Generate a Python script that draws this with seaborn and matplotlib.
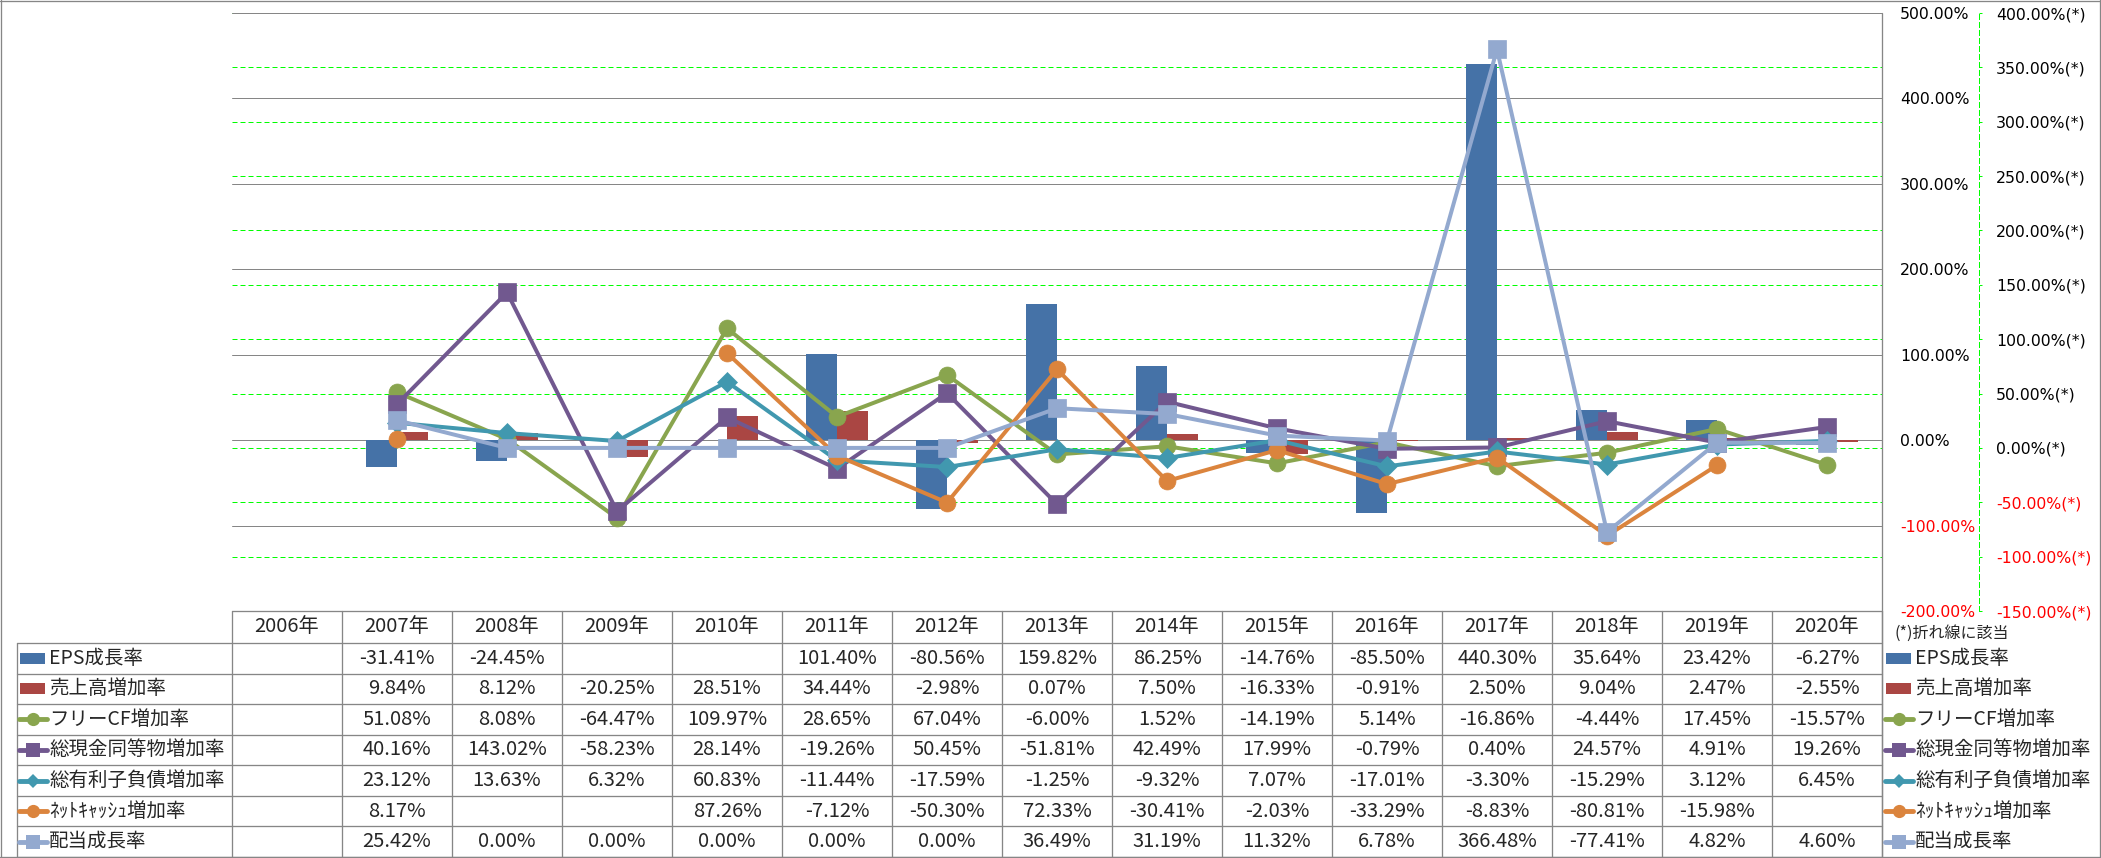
import numpy as np
import pandas as pd
import matplotlib
matplotlib.use("Agg")
import matplotlib.pyplot as plt
import seaborn as sns
from matplotlib.lines import Line2D
from matplotlib.patches import Rectangle

# データ (表の値そのまま, 空欄は NaN)
nan = np.nan
years = ["2006年", "2007年", "2008年", "2009年", "2010年", "2011年", "2012年", "2013年",
         "2014年", "2015年", "2016年", "2017年", "2018年", "2019年", "2020年"]

eps_growth = [nan, -31.41, -24.45, nan, nan, 101.40, -80.56, 159.82, 86.25, -14.76, -85.50, 440.30, 35.64, 23.42, -6.27]
sales_growth = [nan, 9.84, 8.12, -20.25, 28.51, 34.44, -2.98, 0.07, 7.50, -16.33, -0.91, 2.50, 9.04, 2.47, -2.55]
fcf_growth = [nan, 51.08, 8.08, -64.47, 109.97, 28.65, 67.04, -6.00, 1.52, -14.19, 5.14, -16.86, -4.44, 17.45, -15.57]
cash_growth = [nan, 40.16, 143.02, -58.23, 28.14, -19.26, 50.45, -51.81, 42.49, 17.99, -0.79, 0.40, 24.57, 4.91, 19.26]
debt_growth = [nan, 23.12, 13.63, 6.32, 60.83, -11.44, -17.59, -1.25, -9.32, 7.07, -17.01, -3.30, -15.29, 3.12, 6.45]
netcash_growth = [nan, 8.17, nan, nan, 87.26, -7.12, -50.30, 72.33, -30.41, -2.03, -33.29, -8.83, -80.81, -15.98, nan]
dividend_growth = [nan, 25.42, 0.00, 0.00, 0.00, 0.00, 0.00, 36.49, 31.19, 11.32, 6.78, 366.48, -77.41, 4.82, 4.60]

bar_names = ["EPS成長率", "売上高増加率"]
bar_values = [eps_growth, sales_growth]
bar_colors = ["#4572A7", "#AA4643"]

line_names = ["フリーCF増加率", "総現金同等物増加率", "総有利子負債増加率", "ﾈｯﾄｷｬｯｼｭ増加率", "配当成長率"]
line_values = [fcf_growth, cash_growth, debt_growth, netcash_growth, dividend_growth]
line_colors = ["#89A54E", "#71588F", "#4198AF", "#DB843D", "#93A9CF"]
line_markers = ["o", "s", "D", "o", "s"]
marker_sizes = [12.2, 13, 10.2, 12.2, 13]

# レイアウト (ピクセル)
W, H = 2101, 858
PL, PR, PT, PB = 232, 1882, 13, 611
ROW_TOP, ROW_H = 643, 30.57
GREY = "#868686"
GREEN = "#00FF00"
px = 72 / 100

sns.set_style("white")
plt.rcParams["font.family"] = ["DejaVu Sans", "Noto Sans CJK JP"]
TFONT = ["Liberation Sans Narrow", "Noto Sans CJK JP"]

fig = plt.figure(figsize=(W / 100, H / 100), dpi=100)
rect = [PL / W, 1 - PB / H, (PR - PL) / W, (PB - PT) / H]


def right_labels(ax, ticks, fmt):
    ax.yaxis.tick_right()
    ax.set_yticks(ticks)
    ax.set_yticklabels([fmt.format(v) for v in ticks], fontsize=11.3)
    for t, v in zip(ax.yaxis.get_major_ticks(), ticks):
        t.label2.set_color("red" if v < 0 else "black")


# 第2軸 (折れ線用) の背景と緑の破線グリッド
ax_g = fig.add_axes(rect, zorder=0)
for s in ["left", "top", "bottom"]:
    ax_g.spines[s].set_visible(False)
ax_g.spines["right"].set_position(("outward", (1979 - PR) * px))
ax_g.spines["right"].set_color(GREEN)
ax_g.spines["right"].set_linestyle((0, (5, 3)))
ax_g.spines["right"].set_linewidth(px)
ax_g.set_xlim(-0.5, len(years) - 0.5)
ax_g.set_ylim(-150, 400)
ax_g.set_xticks([])
ax_g.tick_params(axis="y", direction="out", length=3 * px, color=GREEN, width=px, pad=10)
ax_g.grid(axis="y", color=GREEN, linewidth=px, linestyle=(0, (5, 3)))
right_labels(ax_g, np.arange(-150, 401, 50), "{:.2f}%(*)")

# 第1軸 (棒グラフ)
ax_b = fig.add_axes(rect, zorder=1)
ax_b.patch.set_visible(False)
bar_df = pd.DataFrame({
    "年": years * len(bar_names),
    "系列": [n for n in bar_names for _ in years],
    "値": [v for vals in bar_values for v in vals],
})
sns.barplot(data=bar_df, x="年", y="値", hue="系列", order=years, hue_order=bar_names,
            palette=bar_colors, saturation=1, width=0.565, errorbar=None,
            linewidth=0, legend=False, ax=ax_b)
for s in ax_b.spines.values():
    s.set_visible(False)
ax_b.set_xlim(-0.5, len(years) - 0.5)
ax_b.set_ylim(-200, 500)
ax_b.set_xticks([])
ax_b.set_xlabel("")
ax_b.set_ylabel("")
ax_b.set_axisbelow(True)
ax_b.grid(axis="y", color=GREY, linewidth=px)
ax_b.tick_params(axis="y", length=0, pad=(1900 - PR) * px)
right_labels(ax_b, np.arange(-200, 501, 100), "{:.2f}%")

# 折れ線 (第2軸)
ax_l = fig.add_axes(rect, zorder=2)
ax_l.patch.set_visible(False)
for name, vals, c, m, ms in zip(line_names, line_values, line_colors, line_markers, marker_sizes):
    d = pd.DataFrame({"pos": np.arange(len(years)), "値": vals})
    d["seg"] = d["値"].isna().cumsum()
    sns.lineplot(data=d, x="pos", y="値", units="seg", estimator=None, color=c,
                 marker=m, markersize=ms, markeredgecolor=c, markeredgewidth=0.5,
                 linewidth=4 * px, legend=False, ax=ax_l)
ax_l.set_xlim(-0.5, len(years) - 0.5)
ax_l.set_ylim(-150, 400)
ax_l.axis("off")

# データテーブルと枠
ov = fig.add_axes([0, 0, 1, 1], zorder=3)
ov.set_xlim(0, W)
ov.set_ylim(H, 0)
ov.axis("off")
ov.patch.set_visible(False)


def hline(y, x0, x1):
    ov.add_line(Line2D([x0, x1], [y, y], color=GREY, linewidth=1.3 * px))


def vline(x, y0, y1):
    ov.add_line(Line2D([x, x], [y0, y1], color=GREY, linewidth=1.3 * px))


cw = (PR - PL) / len(years)
n_rows = len(bar_names) + len(line_names)
bottom = ROW_TOP + ROW_H * n_rows

vline(1, 0, H)
vline(W - 1, 0, H)
hline(1, 0, W)
vline(PR, PT, bottom)
hline(PB, PL, PR)
for k in range(len(years) + 1):
    vline(PL + cw * k, PB, bottom)
vline(17, ROW_TOP, bottom)
for r in range(n_rows + 1):
    hline(ROW_TOP + ROW_H * r, 17, PR)
hline(bottom, 0, W)

for i, y in enumerate(years):
    ov.text(PL + cw * (i + 0.5), (PB + ROW_TOP) / 2, y, ha="center", va="center",
            fontsize=14.5, family=TFONT)

all_names = bar_names + line_names
all_values = bar_values + line_values
all_colors = bar_colors + line_colors
all_markers = [None, None] + line_markers


def draw_key(x0, yc, r):
    if r < len(bar_names):
        ov.add_patch(Rectangle((x0, yc - 5.5), 25, 11, color=all_colors[r], linewidth=0))
    else:
        m = all_markers[r]
        ms = 9.5 if m != "D" else 7.5
        ov.add_line(Line2D([x0 - 1, x0 + 27], [yc, yc], color=all_colors[r], linewidth=3.5))
        ov.add_line(Line2D([x0 + 13], [yc], color=all_colors[r], marker=m, markersize=ms,
                           markeredgewidth=0, linestyle="none"))


for r, (name, vals) in enumerate(zip(all_names, all_values)):
    yc = ROW_TOP + ROW_H * (r + 0.5)
    draw_key(20, yc, r)
    ov.text(49, yc, name, ha="left", va="center", fontsize=14, family=TFONT)
    draw_key(1886, yc, r)
    ov.text(1915, yc, name, ha="left", va="center", fontsize=14, family=TFONT)
    for i, v in enumerate(vals):
        if not np.isnan(v):
            ov.text(PL + cw * (i + 0.5), yc, f"{v:.2f}%", ha="center", va="center",
                    fontsize=14.5, family=TFONT)

ov.text(1895, 633, "(*)折れ線に該当", ha="left", va="center", fontsize=11.5, family=TFONT)

fig.savefig("out.png", dpi=100)
